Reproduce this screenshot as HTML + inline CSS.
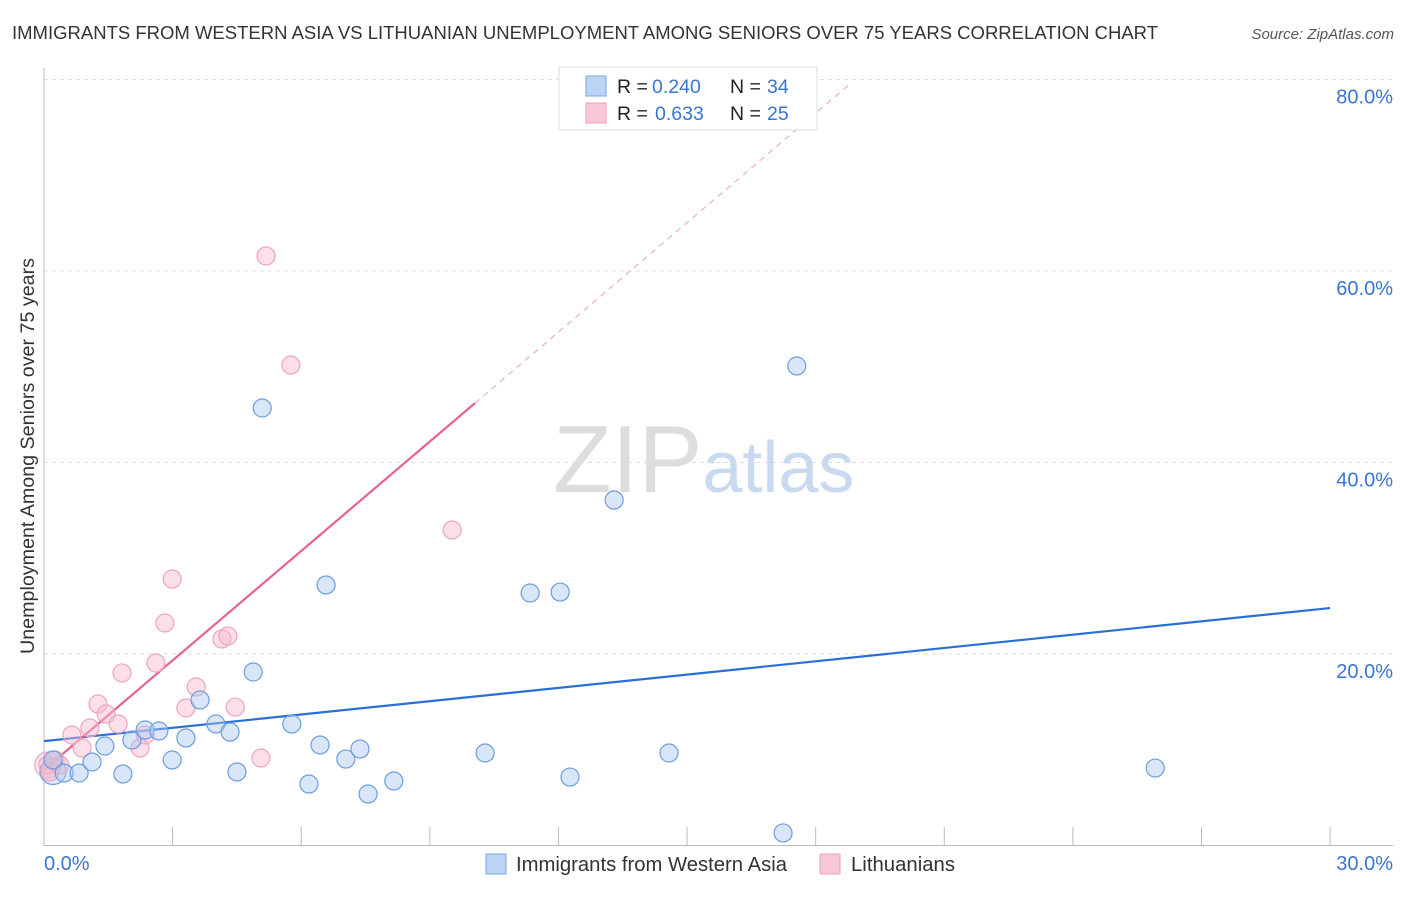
<!DOCTYPE html>
<html><head><meta charset="utf-8"><style>
body{margin:0;background:#fff;font-family:"Liberation Sans",sans-serif;}
svg text{font-family:"Liberation Sans",sans-serif;}
</style></head><body>
<svg id="chart" width="1406" height="892" xmlns="http://www.w3.org/2000/svg">
<text x="12" y="39" font-size="18.5" fill="#333" textLength="1146" lengthAdjust="spacingAndGlyphs">IMMIGRANTS FROM WESTERN ASIA VS LITHUANIAN UNEMPLOYMENT AMONG SENIORS OVER 75 YEARS CORRELATION CHART</text>
<text x="1394" y="39" font-size="15" fill="#555" text-anchor="end" font-style="italic">Source: ZipAtlas.com</text>
<text x="553" y="492" font-size="96" font-family="Liberation Serif" fill="#ddd">ZIP<tspan font-family="Liberation Sans" font-size="72" fill="#c9d9f0">atlas</tspan></text>
<text transform="translate(34,456) rotate(-90)" font-size="19" fill="#333" text-anchor="middle" textLength="396" lengthAdjust="spacingAndGlyphs">Unemployment Among Seniors over 75 years</text>
<g id="grid"></g><g id="axes"></g><g id="lines"></g><g id="pts"></g>
<g>
<rect x="559" y="67" width="258" height="63" fill="#fff" stroke="#ddd"/>
<rect x="586" y="76" width="20" height="20" fill="#bcd3f5" stroke="#7aa5e6"/>
<rect x="586" y="103" width="20" height="20" fill="#f9c8d8" stroke="#eda0b8"/>
<text x="617" y="93" font-size="19.5" fill="#222">R = <tspan x="652" fill="#3a75d0">0.240</tspan><tspan x="730">N = </tspan><tspan x="767" fill="#3a75d0">34</tspan></text>
<text x="617" y="120" font-size="19.5" fill="#222">R = <tspan x="655" fill="#3a75d0">0.633</tspan><tspan x="730">N = </tspan><tspan x="767" fill="#3a75d0">25</tspan></text>
</g>
<g>
<rect x="486" y="854" width="20" height="20" fill="#bcd3f5" stroke="#7aa5e6"/>
<text x="516" y="871" font-size="20" fill="#333" textLength="271" lengthAdjust="spacingAndGlyphs">Immigrants from Western Asia</text>
<rect x="820" y="854" width="20" height="20" fill="#f9c8d8" stroke="#eda0b8"/>
<text x="851" y="871" font-size="20" fill="#333" textLength="104" lengthAdjust="spacingAndGlyphs">Lithuanians</text>
</g>
</svg>
<script>
const blueX=[0.21,0.47,0.82,1.12,1.42,1.84,2.05,2.36,2.68,2.99,3.31,3.64,4.01,4.34,4.50,4.88,5.09,5.78,6.18,6.44,6.58,7.04,7.37,7.56,8.16,10.29,11.34,12.04,12.27,13.30,14.58,17.24,17.56,25.92];
const blueY=[8.93,7.57,7.57,8.72,10.39,7.47,11.02,12.06,11.96,8.93,11.23,15.20,12.69,11.85,7.68,18.12,45.69,12.69,6.42,10.50,27.21,9.03,10.08,5.38,6.74,9.66,26.37,26.47,7.15,36.08,9.66,1.31,50.08,8.09];
const pinkX=[0.09,0.14,0.26,0.37,0.65,0.89,1.07,1.26,1.45,1.73,1.82,2.24,2.36,2.61,2.82,2.99,3.31,3.55,4.15,4.29,4.46,5.06,5.18,5.76,9.52];
const pinkY=[8.41,7.68,8.93,8.41,11.54,10.18,12.27,14.78,13.73,12.69,18.02,10.18,11.54,19.06,23.24,27.83,14.36,16.55,21.57,21.88,14.46,9.14,61.57,50.18,32.95];
const yTicks=[20,40,60,80];
const xTicks=[0,3,6,9,12,15,18,21,24,27,30];
const blueTrend=[10.9,24.8];
const pinkTrend=[7.9,3.81];
const X=v=>44+v*42.87, Y=v=>845.5-v*9.575;
const NS="http://www.w3.org/2000/svg";
function mk(t,a,p){const e=document.createElementNS(NS,t);for(const k in a)e.setAttribute(k,a[k]);p.appendChild(e);return e;}
const grid=document.getElementById('grid'),axes=document.getElementById('axes'),lines=document.getElementById('lines'),pts=document.getElementById('pts');
yTicks.forEach(v=>{
 const l=mk('line',{x1:44,x2:1393,y1:Y(v),y2:Y(v),stroke:'#ddd','stroke-dasharray':'4,4'},grid);
 
 
 const t=mk('text',{x:1393,y:Y(v)+24,'font-size':20,fill:'#3a75d0','text-anchor':'end'},grid);t.textContent=v.toFixed(1)+'%';
 
 
});
mk('line',{x1:44,x2:44,y1:68,y2:845.5,stroke:'#bbb'},axes);
mk('line',{x1:44,x2:1393,y1:845.5,y2:845.5,stroke:'#bbb'},axes);
xTicks.forEach(v=>{const l=mk('line',{x1:X(v),x2:X(v),y1:827,y2:845,stroke:'#bbb'},axes);
 
 });
[[0,44,'start'],[30,1393,'end']].forEach(([v,x,a])=>{const t=mk('text',{x:x,y:870,'font-size':20,fill:'#3a75d0','text-anchor':a},axes);t.textContent=v.toFixed(1)+'%';
 
 });
function dot(x,y,f,s,n,r){const c=mk('circle',{cx:X(x),cy:Y(y),r:r||9,fill:f,stroke:s,'stroke-width':1.2},pts);
 
 }
dot(pinkX[0],pinkY[0],'rgba(248,185,205,0.35)','#eea5bd','lithuanians-point-large',13);
dot(blueX[0],blueY[0]-1.2,'rgba(170,200,240,0.35)','#6c9de0','western-asia-point-large',13);
pinkX.forEach((x,i)=>dot(x,pinkY[i],'rgba(248,185,205,0.45)','#eea5bd','lithuanians-point'));
blueX.forEach((x,i)=>dot(x,blueY[i],'rgba(170,200,240,0.45)','#6c9de0','western-asia-point'));
let l=mk('line',{x1:X(0),y1:Y(blueTrend[0]),x2:X(30),y2:Y(blueTrend[1]),stroke:'#2a6fd6','stroke-width':2.2},lines);


l=mk('line',{x1:X(0),y1:Y(pinkTrend[0]),x2:X(10.05),y2:Y(pinkTrend[0]+pinkTrend[1]*10.05),stroke:'#e8628e','stroke-width':2.2},lines);


l=mk('line',{x1:X(10.05),y1:Y(pinkTrend[0]+pinkTrend[1]*10.05),x2:X(18.8),y2:Y(pinkTrend[0]+pinkTrend[1]*18.8),stroke:'#eaa0b8','stroke-width':1,'stroke-dasharray':'6,5'},lines);


</script>
</body></html>
